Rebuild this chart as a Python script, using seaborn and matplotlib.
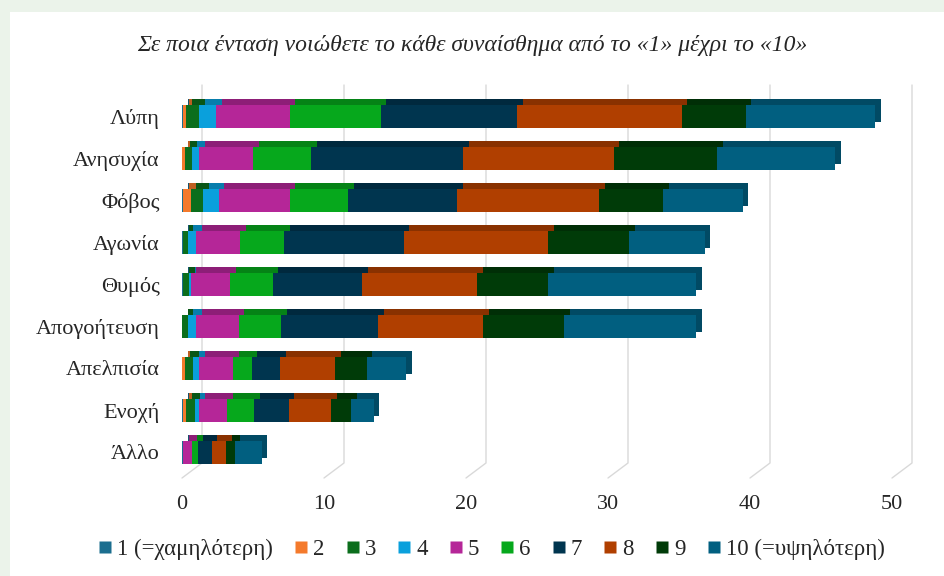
import matplotlib
matplotlib.use("Agg")

import matplotlib.pyplot as plt
import matplotlib.patheffects as pe
from matplotlib.lines import Line2D
from matplotlib.patches import Rectangle
import numpy as np
import seaborn as sns

sns.set_style("white")
plt.rcParams['font.family'] = ['Liberation Serif', 'DejaVu Serif']

title = "Σε ποια ένταση νοιώθετε το κάθε συναίσθημα από το «1» μέχρι το «10»"

emotions = ["Λύπη", "Ανησυχία", "Φόβος", "Αγωνία", "Θυμός",
            "Απογοήτευση", "Απελπισία", "Ενοχή", "Άλλο"]

levels = ["1 (=χαμηλότερη)", "2", "3", "4", "5", "6", "7", "8", "9",
          "10 (=υψηλότερη)"]

# one list per intensity level, values per emotion (same order as emotions)
lvl1 = [0.1, 0.0, 0.1, 0.1, 0.1, 0.0, 0.0, 0.1, 0.1]
lvl2 = [0.2, 0.2, 0.5, 0.0, 0.0, 0.0, 0.2, 0.2, 0.0]
lvl3 = [0.9, 0.5, 0.9, 0.3, 0.4, 0.4, 0.6, 0.6, 0.0]
lvl4 = [1.2, 0.5, 1.1, 0.6, 0.1, 0.6, 0.4, 0.3, 0.0]
lvl5 = [5.2, 3.8, 5.0, 3.1, 2.8, 3.0, 2.4, 2.0, 0.6]
lvl6 = [6.4, 4.1, 4.1, 3.1, 3.0, 3.0, 1.3, 1.9, 0.4]
lvl7 = [9.6, 10.7, 7.7, 8.4, 6.3, 6.8, 2.0, 2.4, 1.0]
lvl8 = [11.6, 10.6, 10.0, 10.2, 8.1, 7.4, 3.9, 3.0, 1.0]
lvl9 = [4.5, 7.3, 4.5, 5.7, 5.0, 5.7, 2.2, 1.4, 0.6]
lvl10 = [9.1, 8.3, 5.6, 5.3, 10.4, 9.3, 2.8, 1.6, 1.9]

colors = ['#1b6e8f', '#f47a2c', '#0b6e1c', '#0aa0dc', '#b52698',
          '#06a81c', '#00354f', '#b03f00', '#003b08', '#015f80']

series = [lvl1, lvl2, lvl3, lvl4, lvl5, lvl6, lvl7, lvl8, lvl9, lvl10]

fig = plt.figure(figsize=(9.44, 5.76), dpi=100, facecolor='#ebf3ea')
# white panel inside the light green frame
fig.add_artist(Rectangle((10 / 944, 0), 1, 1 - 12 / 576, transform=fig.transFigure,
                         facecolor='white', edgecolor='none', zorder=-1))

ax = fig.add_axes([182 / 944, 1 - 478 / 576, 710 / 944, 393 / 576])
ax.set_facecolor('none')

# fake 3d depth: darker copy of each segment pushed up and right
shadow = [pe.SimplePatchShadow(offset=(4, 4.5), rho=0.78, alpha=1), pe.Normal()]

left = np.zeros(len(emotions))
for vals, col in zip(series, colors):
    n_before = len(ax.patches)
    sns.barplot(x=vals, y=emotions, color=col, width=0.55, saturation=1,
                errorbar=None, orient='h', ax=ax)
    # seaborn draws from zero, move each segment after the previous ones
    for p, l in zip(ax.patches[n_before:], left):
        p.set_x(l)
        p.set_linewidth(0)
        p.set_path_effects(shadow)
    left += np.array(vals)

ax.set_xlim(0, 50)
ax.set_ylim(8.61, -0.75)
ticks = list(range(0, 51, 10))
ax.set_xticks(ticks)
ax.grid(False)

# back wall gridlines with a slanted floor piece, like the 3d excel chart
dx, dy = 20 / 710, 15 / 393
for t in ticks:
    fx = t / 50
    ax.plot([fx, fx + dx, fx + dx], [0, dy, 1], transform=ax.transAxes,
            color='#d9d9d9', linewidth=1, zorder=0, clip_on=False)

sns.despine(ax=ax, left=True, bottom=True)
ax.tick_params(axis='x', length=0, pad=12, labelsize=16)
ax.tick_params(axis='y', length=0, pad=16, labelsize=16)
ax.set_xlabel("")
ax.set_ylabel("")

fig.text(0.5, 1 - 45 / 576, title, ha='center', va='center',
         fontsize=17, style='italic')

handles = [Line2D([], [], marker='s', linestyle='none', markersize=8,
                  markerfacecolor=c, markeredgecolor='none') for c in colors]
fig.legend(handles, levels, loc='center', bbox_to_anchor=(0.521, 1 - 549 / 576),
           ncol=10, frameon=False, fontsize=16.5, handlelength=0.55,
           handletextpad=0.25, columnspacing=0.95)

plt.savefig('out.png', dpi=100)
